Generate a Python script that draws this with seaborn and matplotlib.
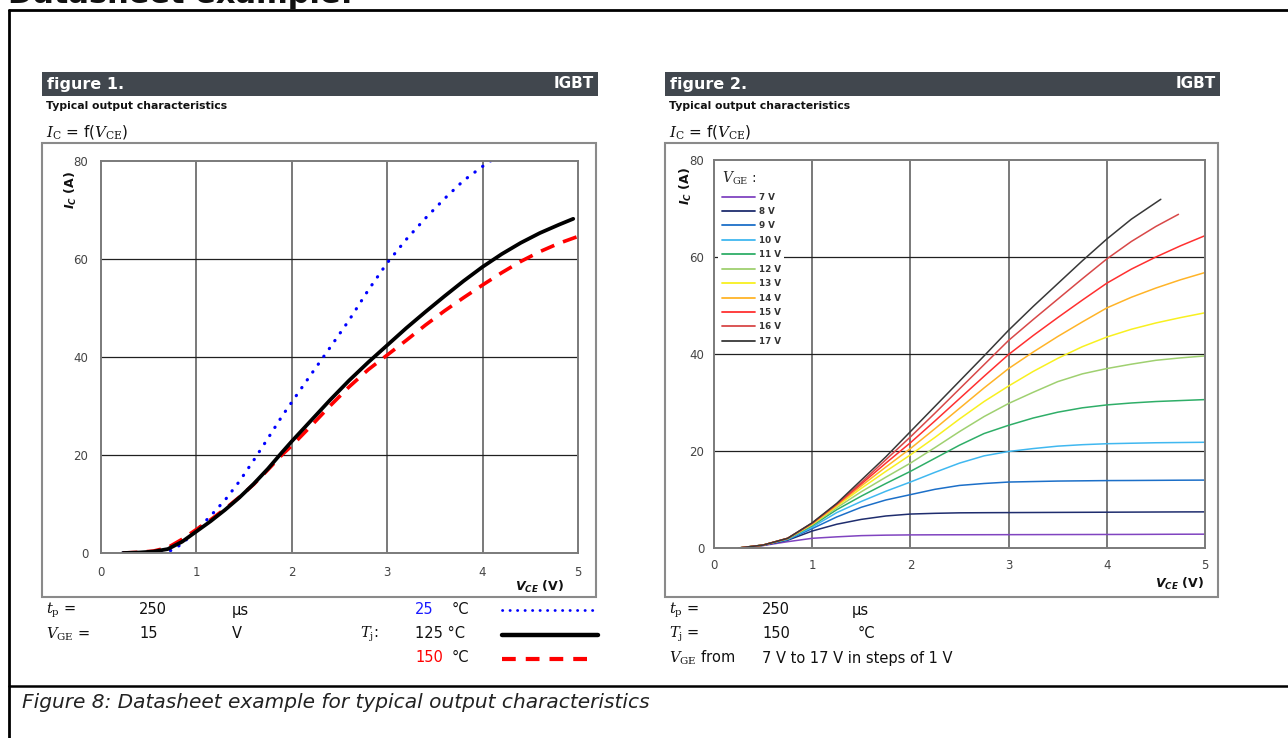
import numpy as np
import pandas as pd
import matplotlib
matplotlib.use("Agg")
import matplotlib.pyplot as plt
import seaborn as sns
from matplotlib.lines import Line2D
from matplotlib.patches import Rectangle

# figure 1 - Ic = f(Vce) at Vge = 15 V for three junction temperatures
vce_25 = [0.23, 0.45, 0.6, 0.7, 0.8, 0.9, 1.0, 1.15, 1.3, 1.45, 1.6, 1.75, 1.9, 2.0, 2.2, 2.4,
          2.6, 2.8, 3.0, 3.2, 3.4, 3.6, 3.8, 4.0, 4.2]
ic_25 = [0, 0, 0, 0.2, 1.2, 2.8, 4.6, 7.6, 10.8, 14.6, 18.9, 23.4, 28.0, 30.8, 36.4, 41.9,
         47.5, 53.6, 59.2, 64.0, 68.3, 72.3, 76.0, 78.9, 81.6]
vce_125 = [0.23, 0.4, 0.55, 0.7, 0.85, 1.0, 1.15, 1.3, 1.45, 1.6, 1.75, 1.9, 2.0, 2.2, 2.4, 2.6,
           2.8, 3.0, 3.2, 3.4, 3.6, 3.8, 4.0, 4.2, 4.4, 4.6, 4.8, 4.95]
ic_125 = [0, 0.1, 0.3, 0.8, 2.3, 4.4, 6.5, 8.8, 11.3, 14.1, 17.2, 20.6, 22.8, 27.0, 31.2, 35.2,
          38.9, 42.4, 45.9, 49.2, 52.4, 55.5, 58.4, 61.0, 63.3, 65.3, 67.0, 68.2]
vce_150 = [0.23, 0.4, 0.55, 0.7, 0.85, 1.0, 1.15, 1.3, 1.45, 1.6, 1.75, 1.9, 2.0, 2.2, 2.4, 2.6,
           2.8, 3.0, 3.2, 3.4, 3.6, 3.8, 4.0, 4.2, 4.4, 4.6, 4.8, 5.0]
ic_150 = [0, 0.15, 0.4, 1.1, 2.8, 4.8, 6.8, 9.0, 11.4, 14.0, 17.0, 20.1, 21.9, 25.9, 30.0, 33.9,
          37.4, 40.4, 43.4, 46.5, 49.4, 52.1, 54.7, 57.2, 59.5, 61.5, 63.2, 64.6]

# figure 2 - Ic = f(Vce) at Tj = 150 C for Vge 7..17 V
vce_grid = [0.25, 0.5, 0.75, 1.0, 1.25, 1.5, 1.75, 2.0, 2.25, 2.5, 2.75, 3.0, 3.25, 3.5,
            3.75, 4.0, 4.25, 4.5, 4.75, 5.0]
vce_16 = [0.25, 0.5, 0.75, 1.0, 1.25, 1.5, 1.75, 2.0, 2.25, 2.5, 2.75, 3.0, 3.25, 3.5,
          3.75, 4.0, 4.25, 4.5, 4.73]
vce_17 = [0.25, 0.5, 0.75, 1.0, 1.25, 1.5, 1.75, 2.0, 2.25, 2.5, 2.75, 3.0, 3.25, 3.5,
          3.75, 4.0, 4.25, 4.55]
ic_7 = [0, 0.5, 1.3, 2.0, 2.3, 2.55, 2.65, 2.7, 2.72, 2.73, 2.74, 2.75, 2.76, 2.77, 2.78, 2.79, 2.8, 2.82, 2.84, 2.85]
ic_8 = [0, 0.55, 1.6, 3.5, 4.9, 5.9, 6.6, 7.0, 7.15, 7.25, 7.28, 7.3, 7.32, 7.34, 7.36, 7.38, 7.4, 7.42, 7.44, 7.45]
ic_9 = [0, 0.6, 1.7, 4.0, 6.4, 8.4, 9.9, 11.0, 12.1, 12.9, 13.3, 13.6, 13.7, 13.8, 13.85, 13.9, 13.92, 13.95, 13.98, 14.0]
ic_10 = [0, 0.6, 1.8, 4.3, 7.3, 9.6, 11.7, 13.6, 15.6, 17.5, 19.0, 19.9, 20.5, 21.0, 21.3, 21.5, 21.6, 21.7, 21.75, 21.8]
ic_11 = [0, 0.6, 1.9, 4.6, 7.9, 10.7, 13.3, 15.8, 18.5, 21.2, 23.6, 25.3, 26.8, 28.0, 28.9, 29.5, 29.9, 30.2, 30.4, 30.6]
ic_12 = [0, 0.6, 1.9, 4.8, 8.3, 11.6, 14.6, 17.5, 20.7, 24.0, 27.1, 29.8, 32.1, 34.3, 35.9, 37.0, 37.9, 38.7, 39.2, 39.6]
ic_13 = [0, 0.6, 2.0, 4.9, 8.6, 12.3, 15.8, 19.2, 22.8, 26.6, 30.2, 33.4, 36.4, 39.1, 41.5, 43.5, 45.1, 46.4, 47.5, 48.5]
ic_14 = [0, 0.6, 2.0, 5.0, 8.8, 12.8, 16.7, 20.5, 24.6, 28.8, 33.0, 37.0, 40.4, 43.6, 46.6, 49.5, 51.7, 53.6, 55.3, 56.8]
ic_15 = [0, 0.6, 2.0, 5.1, 9.0, 13.2, 17.5, 21.7, 26.2, 30.8, 35.4, 39.9, 43.8, 47.5, 51.1, 54.6, 57.5, 60.0, 62.3, 64.4]
ic_16 = [0, 0.6, 2.0, 5.15, 9.1, 13.5, 18.2, 22.9, 27.8, 32.8, 37.8, 42.8, 47.1, 51.3, 55.5, 59.6, 63.2, 66.3, 68.8]
ic_17 = [0, 0.6, 2.0, 5.2, 9.2, 14.0, 18.8, 24.0, 29.2, 34.4, 39.6, 44.9, 49.8, 54.5, 59.2, 63.7, 67.8, 71.9]

vge_labels = ["7 V", "8 V", "9 V", "10 V", "11 V", "12 V", "13 V", "14 V", "15 V", "16 V", "17 V"]
vge_colors = ["#8044c0", "#1f2d6e", "#1c6fc8", "#40b8f0", "#2fae68", "#9fd070",
              "#f8f020", "#ffb428", "#ff3030", "#d84848", "#383838"]

curves = [(vce_grid, ic_7), (vce_grid, ic_8), (vce_grid, ic_9), (vce_grid, ic_10),
          (vce_grid, ic_11), (vce_grid, ic_12), (vce_grid, ic_13), (vce_grid, ic_14),
          (vce_grid, ic_15), (vce_16, ic_16), (vce_17, ic_17)]
rows = []
for lab, (xs, ys) in zip(vge_labels, curves):
    for x, y in zip(xs, ys):
        rows.append({"VCE": x, "IC": y, "VGE": lab})
df2 = pd.DataFrame(rows)

sns.set_theme(style="white")
plt.rcParams["font.family"] = ["DejaVu Sans"]
plt.rcParams["mathtext.fontset"] = "custom"
plt.rcParams["mathtext.rm"] = "DejaVu Serif"
plt.rcParams["mathtext.it"] = "DejaVu Serif:italic"
plt.rcParams["mathtext.bf"] = "DejaVu Sans:bold:italic"

W, H = 1288, 738
fig = plt.figure(figsize=(W / 100, H / 100), dpi=100)
fig.patch.set_facecolor("white")


def fx(px):
    return px / W


def fy(py):
    return 1 - py / H


def ftext(px, py, s, **kw):
    kw.setdefault("va", "center")
    kw.setdefault("fontsize", 10.5)
    kw.setdefault("color", "#111111")
    fig.text(fx(px), fy(py), s, **kw)


def fline(x0, x1, y0, y1, **kw):
    fig.add_artist(Line2D([fx(x0), fx(x1)], [fy(y0), fy(y1)], transform=fig.transFigure, **kw))


# outer frame
fig.text(fx(8), fy(3), "Datasheet example:", fontsize=22, fontweight="bold", va="baseline", color="#111111")
fline(9, 1288, 10, 10, color="black", lw=2)
fline(9, 9, 10, 738, color="black", lw=2)
fline(9, 1288, 686, 686, color="black", lw=1.8)
ftext(22, 703, "Figure 8: Datasheet example for typical output characteristics",
      fontsize=14.5, style="italic", color="#222222")


def panel(x0, x1, name):
    fig.add_artist(Rectangle((fx(x0), fy(96)), fx(x1) - fx(x0), fy(72) - fy(96),
                             transform=fig.transFigure, facecolor="#41474e", edgecolor="none"))
    ftext(x0 + 5, 84, name, color="white", fontsize=11.5, fontweight="bold")
    ftext(x1 - 4, 84, "IGBT", color="white", fontsize=11, fontweight="bold", ha="right")
    ftext(x0 + 4, 106, "Typical output characteristics", fontsize=7.8, fontweight="bold")
    ftext(x0 + 4, 132, r"$I_\mathrm{C}$ = f($V_\mathrm{CE}$)", fontsize=11)
    fig.add_artist(Rectangle((fx(x0), fy(597)), fx(x1 - 2) - fx(x0), fy(143) - fy(597),
                             transform=fig.transFigure, facecolor="none", edgecolor="#8a8a8a", lw=1.5))


def style_axes(ax, xpad, ypad):
    ax.set_xlim(0, 5)
    ax.set_ylim(0, 80)
    ax.set_xticks([0, 1, 2, 3, 4, 5])
    ax.set_yticks([0, 20, 40, 60, 80])
    for x in [1, 2, 3, 4]:
        ax.axvline(x, color="#6e6e6e", lw=1.3, zorder=0)
    for y in [20, 40, 60]:
        ax.axhline(y, color="#202020", lw=0.9, zorder=0)
    for s in ax.spines.values():
        s.set_color("#7a7a7a")
        s.set_linewidth(1.4)
    ax.tick_params(axis="x", length=0, pad=xpad, labelsize=8.5, labelcolor="#444444")
    ax.tick_params(axis="y", length=0, pad=ypad, labelsize=8.5, labelcolor="#444444")
    ax.set_xlabel("")
    ax.set_ylabel("")
    ax.grid(False)


# ---- figure 1
panel(42, 598, "figure 1.")
ax1 = fig.add_axes([fx(101), fy(553), fx(578) - fx(101), fy(161) - fy(553)])
sns.lineplot(x=vce_25, y=ic_25, ax=ax1, color="#0000ff", lw=2.3, sort=False,
             ls=(0, (0.1, 2.9)), dash_capstyle="round")
sns.lineplot(x=vce_150, y=ic_150, ax=ax1, color="#ff0000", lw=2.6, sort=False, ls=(0, (4, 2.6)))
sns.lineplot(x=vce_125, y=ic_125, ax=ax1, color="black", lw=2.7, sort=False)
style_axes(ax1, 9, 9)
ftext(63, 190, r"$\mathbf{I_C}$ (A)", rotation=90, fontsize=9, fontweight="bold")
ftext(540, 587, r"$\mathbf{V_{CE}}$ (V)", fontsize=9, fontweight="bold", ha="center")

ftext(46, 610, r"$t_\mathrm{p}$ =")
ftext(139, 610, "250")
ftext(232, 610, "µs")
ftext(415, 610, "25", color="#1a1aff")
ftext(452, 610, "°C")
ftext(46, 634, r"$V_\mathrm{GE}$ =")
ftext(139, 634, "15")
ftext(232, 634, "V")
ftext(360, 634, r"$T_\mathrm{j}$:")
ftext(415, 634, "125 °C")
ftext(415, 658, "150", color="#ff0000")
ftext(452, 658, "°C")
fline(502, 598, 610, 610, color="#0000ff", lw=2.0, ls=(0, (0.1, 2.6)), dash_capstyle="round")
fline(502, 598, 635, 635, color="black", lw=3.2)
fline(502, 596, 659, 659, color="#ff0000", lw=3.0, ls=(0, (3.3, 2.4)))

# ---- figure 2
panel(665, 1220, "figure 2.")
ax2 = fig.add_axes([fx(714), fy(548), fx(1205) - fx(714), fy(160) - fy(548)])
sns.lineplot(data=df2, x="VCE", y="IC", hue="VGE", hue_order=vge_labels,
             palette=dict(zip(vge_labels, vge_colors)), lw=1.1, ax=ax2, estimator=None)
style_axes(ax2, 8, 7)
sns.move_legend(ax2, "upper left", bbox_to_anchor=(0.0, 0.995), title=r"$V_\mathrm{GE}$ :",
                frameon=True, fontsize=6.3, title_fontsize=10, handlelength=3.8,
                labelspacing=0.62, borderpad=0.4, handletextpad=0.4, alignment="left")
leg = ax2.get_legend()
leg.get_frame().set_facecolor("white")
leg.get_frame().set_edgecolor("none")
leg.get_frame().set_alpha(1)
for t in leg.get_texts():
    t.set_fontweight("bold")
    t.set_color("#333333")
for h in leg.legend_handles:
    h.set_linewidth(1.3)

ftext(678, 186, r"$\mathbf{I_C}$ (A)", rotation=90, fontsize=9, fontweight="bold")
ftext(1180, 584, r"$\mathbf{V_{CE}}$ (V)", fontsize=9, fontweight="bold", ha="center")

ftext(669, 610, r"$t_\mathrm{p}$ =")
ftext(762, 610, "250")
ftext(852, 610, "µs")
ftext(669, 634, r"$T_\mathrm{j}$ =")
ftext(762, 634, "150")
ftext(858, 634, "°C")
ftext(669, 658, r"$V_\mathrm{GE}$ from")
ftext(762, 658, "7 V to 17 V in steps of 1 V")

fig.savefig("out.png", dpi=100)
